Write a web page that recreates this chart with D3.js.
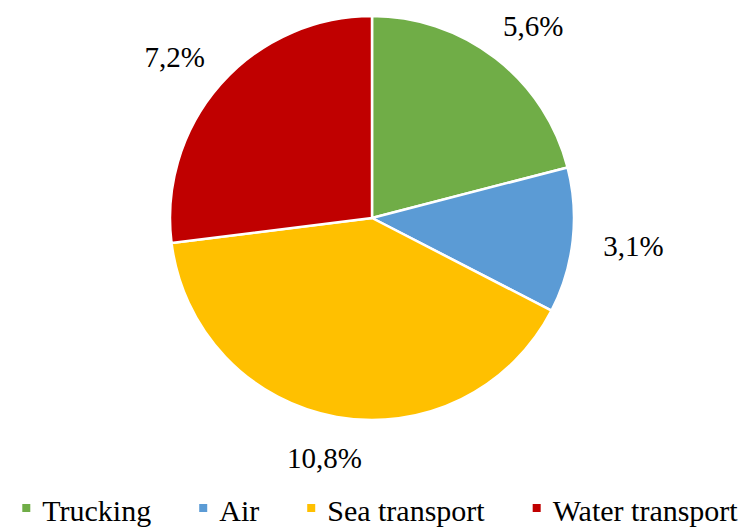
<!DOCTYPE html>
<html>
<head>
<meta charset="utf-8">
<script src="https://cdn.jsdelivr.net/npm/d3@7"></script>
<style>
  body { margin: 0; background: #fff; }
</style>
</head>
<body>
<div id="chart"></div>
<script>
// data
const categories = ["Trucking", "Air", "Sea transport", "Water transport"];
const values = [5.6, 3.1, 10.8, 7.2];
const labels = ["5,6%", "3,1%", "10,8%", "7,2%"];
const colors = ["#70AD47", "#5B9BD5", "#FFC000", "#C00000"];

const width = 756, height = 530;
const cx = 372, cy = 218, radius = 202;
const fontFam = "'Liberation Serif', 'DejaVu Serif', 'Times New Roman', serif";

const svg = d3.select("#chart").append("svg")
  .attr("width", width)
  .attr("height", height);

const pie = d3.pie().sort(null).value(d => d.value);
const arc = d3.arc().innerRadius(0).outerRadius(radius);

const data = categories.map((c, i) => ({ name: c, value: values[i], label: labels[i], color: colors[i] }));
const arcs = pie(data);

const g = svg.append("g").attr("transform", "translate(" + cx + "," + cy + ")");

g.selectAll("path.slice")
  .data(arcs)
  .enter().append("path")
  .attr("class", "slice")
  .attr("d", arc)
  .attr("fill", d => d.data.color)
  .attr("stroke", "#fff")
  .attr("stroke-width", 2.5)
  .attr("stroke-linejoin", "round");

// labels outside end: box pushed out from anchor point on mid angle
const labelR = 233;
g.selectAll("text.lbl")
  .data(arcs)
  .enter().append("text")
  .attr("class", "lbl")
  .attr("font-family", fontFam)
  .attr("font-size", 29)
  .attr("text-anchor", "middle")
  .text(d => d.data.label)
  .each(function(d) {
    const a = (d.startAngle + d.endAngle) / 2;
    const w = this.getComputedTextLength();
    const h = 21;
    const ax = Math.sin(a) * labelR, ay = -Math.cos(a) * labelR;
    const x = ax + Math.sin(a) * w / 2;
    const y = ay - Math.cos(a) * h / 2;
    d3.select(this).attr("x", x).attr("y", y + h / 2);
  });

// legend
const legend = svg.append("g").attr("class", "legend");
const items = legend.selectAll("g.item")
  .data(data)
  .enter().append("g")
  .attr("class", "item");

items.append("rect")
  .attr("width", 8).attr("height", 8)
  .attr("y", -17)
  .attr("fill", d => d.color);

items.append("text")
  .attr("x", 20)
  .attr("font-family", fontFam)
  .attr("font-size", 30)
  .text(d => d.name);

let xpos = 0;
const gap = 48;
items.each(function() {
  const tw = d3.select(this).select("text").node().getComputedTextLength();
  d3.select(this).attr("transform", "translate(" + xpos + ",0)");
  xpos += 20 + tw + gap;
});
const total = xpos - gap;
legend.attr("transform", "translate(" + (380 - total / 2) + ",521)");
</script>
</body>
</html>
